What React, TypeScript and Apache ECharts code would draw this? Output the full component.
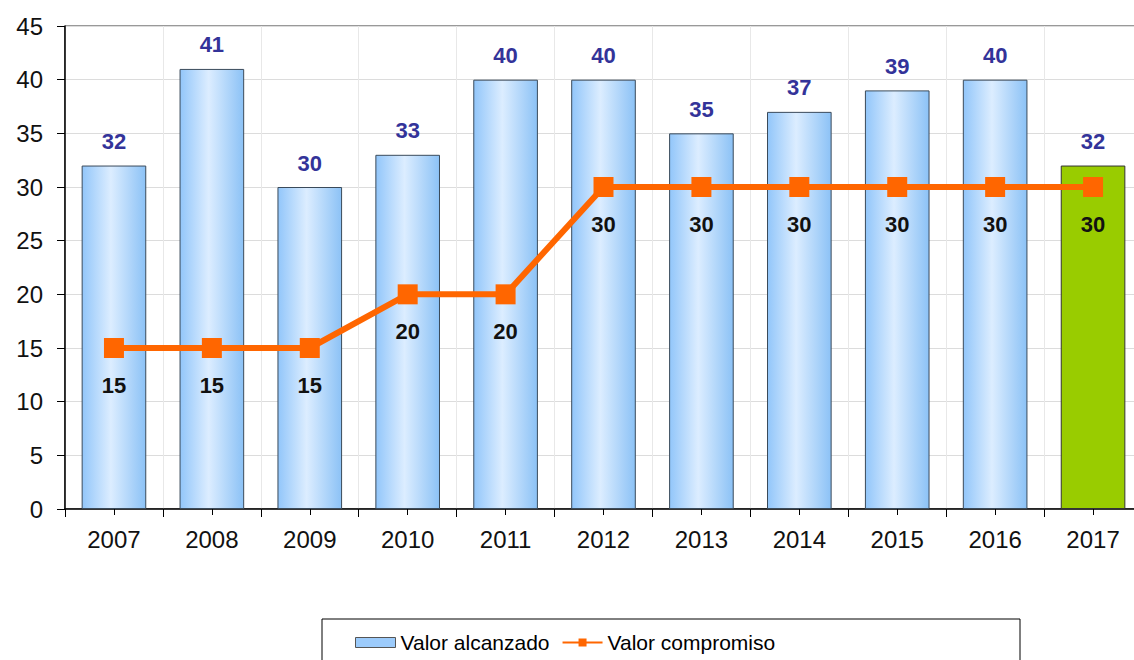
import React, { useEffect, useRef } from "react";
import * as echarts from "echarts";

const years = ["2007", "2008", "2009", "2010", "2011", "2012", "2013", "2014", "2015", "2016", "2017"];
const valorAlcanzado = [32, 41, 30, 33, 40, 40, 35, 37, 39, 40, 32];
const valorCompromiso = [15, 15, 15, 20, 20, 30, 30, 30, 30, 30, 30];
const highlightYear = "2017";

const FONT = "'Liberation Sans', Arial, sans-serif";

export default function App() {
  const ref = useRef<HTMLDivElement>(null);
  useEffect(() => {
    document.body.style.margin = "0";
    document.body.style.overflow = "hidden";
    const chart = echarts.init(ref.current!, null, { renderer: "svg" });
    const blueGrad = new echarts.graphic.LinearGradient(0, 0, 1, 0, [
      { offset: 0, color: "#92c6fa" },
      { offset: 0.45, color: "#dcedff" },
      { offset: 1, color: "#8cc2f6" },
    ]);
    const barData = valorAlcanzado.map((v, i) =>
      years[i] === highlightYear
        ? { value: v, itemStyle: { color: "#99cc00", borderColor: "#333333" } }
        : { value: v }
    );
    chart.setOption({
      animation: false,
      backgroundColor: "#ffffff",
      textStyle: { fontFamily: FONT },
      grid: {
        left: 65,
        right: 8,
        top: 26,
        bottom: 151,
        show: true,
        borderColor: "#333333",
        borderWidth: 1,
        backgroundColor: "transparent",
      },
      graphic: [
        {
          type: "rect",
          shape: { x: 322, y: 619, width: 698, height: 60 },
          style: { fill: "#ffffff", stroke: "#000000", lineWidth: 1 },
          z: -1,
        },
      ],
      legend: {
        left: 350,
        top: 627,
        itemWidth: 40,
        itemHeight: 10,
        itemGap: 12,
        textStyle: { fontFamily: FONT, fontSize: 21, color: "#000000" },
        data: [
          {
            name: "Valor alcanzado",
            icon: "rect",
            itemStyle: { color: "#9ccbfb", borderColor: "#555555", borderWidth: 1 },
          },
          { name: "Valor compromiso" },
        ],
      },
      xAxis: [
        {
          type: "category",
          data: years,
          position: "bottom",
          axisLine: { lineStyle: { color: "#000000", width: 1.5 } },
          axisTick: { show: true, length: 8, lineStyle: { color: "#000000" } },
          axisLabel: { fontSize: 24, color: "#111111", margin: 18, fontFamily: FONT },
          splitLine: { show: true, lineStyle: { color: "#e8e8e8", width: 1 } },
        },
        {
          type: "category",
          data: years,
          position: "bottom",
          axisLine: { show: false },
          axisTick: { show: true, alignWithLabel: true, length: 6, lineStyle: { color: "#000000" } },
          axisLabel: { show: false },
          splitLine: { show: false },
        },
      ],
      yAxis: {
        type: "value",
        min: 0,
        max: 45,
        interval: 5,
        axisLine: { show: true, lineStyle: { color: "#000000", width: 1.5 } },
        axisTick: { show: true, length: 8, lineStyle: { color: "#000000" } },
        axisLabel: { fontSize: 24, color: "#111111", margin: 22, fontFamily: FONT },
        splitLine: { show: true, lineStyle: { color: "#dcdcdc", width: 1 } },
      },
      series: [
        {
          name: "Valor alcanzado",
          type: "bar",
          data: barData,
          barWidth: "66%",
          itemStyle: { color: blueGrad, borderColor: "#3a4a5a", borderWidth: 1 },
          label: {
            show: true,
            position: "top",
            distance: 13,
            color: "#333399",
            fontWeight: "bold",
            fontSize: 22,
            fontFamily: FONT,
          },
        },
        {
          name: "Valor compromiso",
          type: "line",
          data: valorCompromiso,
          symbol: "rect",
          symbolSize: 20,
          lineStyle: { color: "#ff6600", width: 6 },
          itemStyle: { color: "#ff6600" },
          label: {
            show: true,
            position: "bottom",
            distance: 16,
            color: "#111111",
            fontWeight: "bold",
            fontSize: 22,
            fontFamily: FONT,
          },
          z: 5,
        },
      ],
    });
    return () => chart.dispose();
  }, []);
  return (
    <div
      ref={ref}
      style={{ position: "absolute", left: 0, top: 0, width: 1150, height: 660 }}
    />
  );
}
